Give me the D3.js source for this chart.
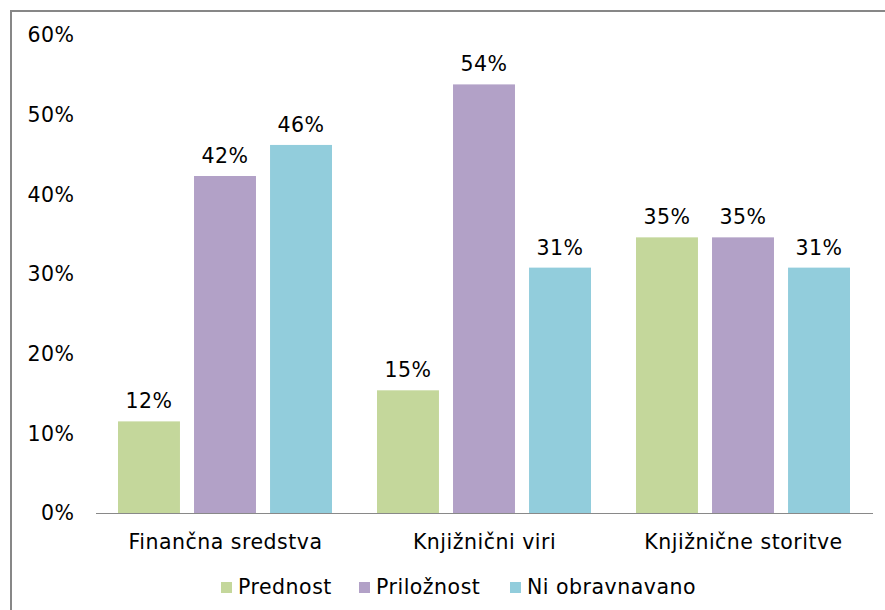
<!DOCTYPE html>
<html><head><meta charset="utf-8">
<script src="https://cdn.jsdelivr.net/npm/d3@7"></script>
<style>
body{margin:0;background:#fff;}
svg text{font-family:"DejaVu Sans",Verdana,sans-serif;fill:#000;letter-spacing:0.5px;}
</style></head>
<body><svg id="c" width="885" height="610"></svg>
<script>
const categories = ["Finančna sredstva", "Knjižnični viri", "Knjižnične storitve"];
const seriesNames = ["Prednost", "Priložnost", "Ni obravnavano"];
const prednost = [11.5, 15.4, 34.6];
const priloznost = [42.3, 53.8, 34.6];
const niObravnavano = [46.2, 30.8, 30.8];
const yTicks = [0, 10, 20, 30, 40, 50, 60];
const colors = ["#C4D79B", "#B2A1C7", "#92CDDC"];

const series = [prednost, priloznost, niObravnavano];
const svg = d3.select("#c");
const fs = 20.5;

// frame
svg.append("rect").attr("x", 11).attr("y", 11).attr("width", 900).attr("height", 700)
  .attr("fill", "none").attr("stroke", "#878787").attr("stroke-width", 2);

const x0 = d3.scaleBand().domain(categories).range([96, 873]).paddingInner(0).paddingOuter(0);
const x1 = d3.scaleBand().domain(seriesNames).range([22, x0.bandwidth() - 23]).paddingInner(0.185);
const y = d3.scaleLinear().domain([0, 60]).range([513, 35]);

// y labels
svg.append("g").selectAll("text").data(yTicks).join("text")
  .attr("x", 74.5).attr("y", d => y(d)).attr("dy", "0.35em")
  .attr("text-anchor", "end").attr("font-size", fs)
  .text(d => d + "%");

// bars
const groups = svg.append("g").selectAll("g").data(categories).join("g")
  .attr("transform", c => `translate(${x0(c)},0)`);
groups.each(function(c, ci) {
  const g = d3.select(this);
  seriesNames.forEach((s, si) => {
    const v = series[si][ci];
    g.append("rect").attr("x", x1(s)).attr("width", x1.bandwidth())
      .attr("y", y(v)).attr("height", y(0) - y(v)).attr("fill", colors[si]);
    g.append("text").attr("x", x1(s) + x1.bandwidth() / 2).attr("y", y(v) - 13)
      .attr("text-anchor", "middle").attr("font-size", fs)
      .text(Math.round(v) + "%");
  });
});

// x axis line
svg.append("line").attr("x1", 96).attr("x2", 873).attr("y1", 513.5).attr("y2", 513.5)
  .attr("stroke", "#898989").attr("stroke-width", 1);

// category labels
svg.append("g").selectAll("text").data(categories).join("text")
  .attr("x", c => x0(c) + x0.bandwidth() / 2).attr("y", 549)
  .attr("text-anchor", "middle").attr("font-size", fs)
  .text(c => c);

// legend
const legX = [221, 359, 510];
const leg = svg.append("g").selectAll("g").data(seriesNames).join("g")
  .attr("transform", (d, i) => `translate(${legX[i]},582)`);
leg.append("rect").attr("width", 11).attr("height", 11).attr("fill", (d, i) => colors[i]);
leg.append("text").attr("x", 17).attr("y", 12).attr("font-size", fs).text(d => d);
</script></body></html>
